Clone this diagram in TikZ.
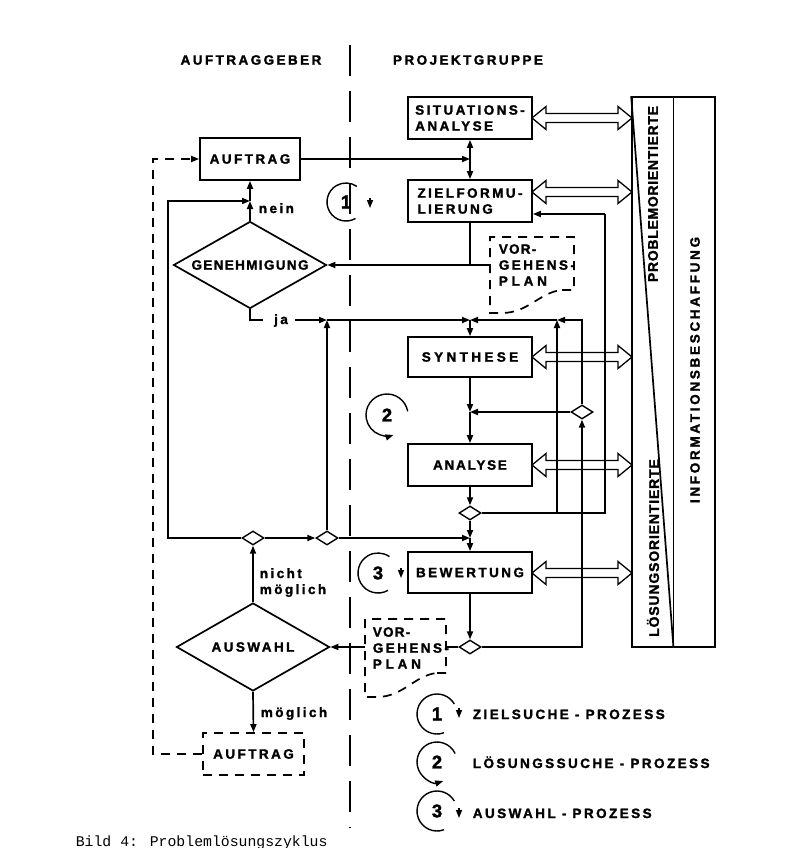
\documentclass[tikz,border=0pt]{standalone}
\usepackage{fontspec}
\setmainfont{Liberation Sans}
\newfontfamily\lblfont[LetterSpace=18,FakeBold=1.6]{Liberation Sans Bold}
\newfontfamily\numfont[FakeBold=1.6]{Liberation Sans Bold}
\newfontfamily\captfont{Liberation Mono}
\usetikzlibrary{arrows.meta,shapes.geometric,calc}
\newcommand\ls[1]{\addfontfeature{LetterSpace=#1}}
\newcommand\hollowarr[3]{%
  \draw[line width=1.3pt,line join=miter] (#1,#3) -- (#1+14,#3-11.5) -- (#1+14,#3-4.5) -- (#2-14,#3-4.5) -- (#2-14,#3-11.5) -- (#2,#3) -- (#2-14,#3+11.5) -- (#2-14,#3+4.5) -- (#1+14,#3+4.5) -- (#1+14,#3+11.5) -- cycle;}
\begin{document}
\begin{tikzpicture}[x=1pt,y=-1pt,line width=1.7pt,
  txt/.style={font=\lblfont\fontsize{13.5}{16}\selectfont,inner sep=0pt},
  box/.style={txt,draw,minimum width=124pt,minimum height=42pt,align=left},
  dia/.style={txt,draw,diamond,aspect=1.76,minimum width=153pt,minimum height=87pt},
  sdia/.style={draw,diamond,minimum width=22pt,minimum height=14pt,inner sep=0pt,fill=white,line width=1.4pt},
  arr/.style={-{Triangle[length=8pt,width=6pt]}},
  darr/.style={{Triangle[length=8pt,width=6pt]}-{Triangle[length=8pt,width=6pt]}},
  dsh/.style={dash pattern=on 9pt off 7pt},
  num/.style={font=\numfont\fontsize{18.5}{20}\selectfont,inner sep=0pt},
  circ/.style={line width=1.4pt},
]
\useasboundingbox (0,0) rectangle (785,848);

% headers and separator
\node[txt] (hA) at (251,60) {AUFTRAGGEBER};
\node[txt] (hP) at (468,60) {PROJEKTGRUPPE};
\draw[dash pattern=on 31pt off 15pt] (350,45) -- (350,828);

% hollow double arrows (drawn first)
\hollowarr{532}{632}{118}
\hollowarr{532}{632}{192}
\hollowarr{532}{632}{357}
\hollowarr{532}{632}{465}
\hollowarr{532}{632}{573}

% info panel
\node[draw,minimum width=83pt,minimum height=550pt,inner sep=0pt] (panel) at (673.5,372) {};
\draw (panel.north) -- (panel.south);
\draw (panel.north west) -- (panel.south);
\node[txt,rotate=90] (pt1) at (653,194) {\fontsize{14}{16}\selectfont\ls{5}PROBLEMORIENTIERTE};
\node[txt,rotate=90] (pt2) at (653,548) {\fontsize{14}{16}\selectfont\ls{6}LÖSUNGSORIENTIERTE};
\node[txt,rotate=90] (pt3) at (695,370) {\ls{20}INFORMATIONSBESCHAFFUNG};

% boxes
\node[box] (sit) at (470,118) {SITUATIONS-\\ANALYSE};
\node[box] (ziel) at (470,201) {ZIELFORMU-\\LIERUNG};
\node[box,minimum height=40pt] (syn) at (470,357) {\ls{25}SYNTHESE};
\node[box] (ana) at (470,465) {\ls{13}ANALYSE};
\node[box,minimum height=41pt] (bew) at (470,572.5) {BEWERTUNG};
\node[box,minimum width=100pt,minimum height=42pt] (auf) at (250,159) {AUFTRAG};
\node[dia] (gen) at (250,265) {\ls{10}GENEHMIGUNG};
\node[dia,minimum height=88pt] (aus) at (253,647) {AUSWAHL};
\node[box,dsh,minimum width=101pt,minimum height=42pt] (auf2) at (253.5,754) {AUFTRAG};

% small diamonds
\node[sdia] (d1) at (253,538) {};
\node[sdia] (d2) at (327,538) {};
\node[sdia] (d3) at (582,412) {};
\node[sdia] (d4) at (470,513) {};
\node[sdia] (d5) at (470,647) {};

% Vorgehensplan documents
\node[txt,anchor=west,align=left] (vg1) at (498,265) {\ls{9}VOR-\\GEHENS-\\\ls{28}PLAN};
\draw[dsh] (562,290) -- (574,290) -- (574,237) -- (490,237) -- (490,313) -- (502,313) .. controls (528,313) and (540,292) .. (562,290);
\node[txt,anchor=west,align=left] (vg2) at (372,648) {\ls{9}VOR-\\GEHENS-\\\ls{28}PLAN};
\draw[dsh] (437,673) -- (446,673) -- (446,619) -- (365,619) -- (365,697) -- (377,697) .. controls (403,697) and (415,675) .. (437,673);

% labels
\node[txt,anchor=base west] (lnein) at (258,213) {nein};
\node[txt,anchor=base] (ja) at (281,324) {ja};
\node[txt,anchor=base west] (lnicht) at (259,578) {nicht};
\node[txt,anchor=base west] (lmog1) at (259,594) {möglich};
\node[txt,anchor=base west] (lmog2) at (260,717) {möglich};

% coordinates
\coordinate (vg1w) at (490,265);
\coordinate (vg2w) at (365,647);
\coordinate (vg2e) at (446,647);
\coordinate (q1) at (470,159);
\coordinate (q2) at (470,265);
\coordinate (n1) at (250,201);
\coordinate (n0) at (168,201);
\coordinate (jaL) at (263,320);
\coordinate (jaR) at (295,320);
\coordinate (j1) at (327,320);
\coordinate (j2) at (470,320);
\coordinate (j3) at (557,320);
\coordinate (m1) at (470,412);
\coordinate (m2) at (470,538);
\coordinate (k1) at (557,513);
\coordinate (k2) at (605,513);
\coordinate (k3) at (605,214);
\coordinate (r1) at (153,159);

% connectors
\draw[arr] (auf.east) -- (q1);
\draw[darr] (sit.south) -- (ziel.north);
\draw (ziel.south) -- (q2);
\draw[arr] (vg1w) -- (gen.east);
\draw[arr] (gen.north) -- (n1);
\draw[arr] (n1) -- (auf.south);
\draw[arr] (d1.west) -| (n0) -- (n1);
\draw (gen.south) |- (jaL);
\draw[arr] (jaR) -- (j1);
\draw[arr] (j1) -- (j2);
\draw[arr] (d2.north) -- (j1);
\draw[arr] (j2) -- (syn.north);
\draw[arr] (d3.north) |- (j3);
\draw[arr] (j3) -- (j2);
\draw[arr] (k1) -- (j3);
\draw (d4.east) -- (k2) -- (k3);
\draw[arr] (k3) -- (ziel.east |- k3);
\draw[arr] (syn.south) -- (m1);
\draw[arr] (d3.west) -- (m1);
\draw[arr] (m1) -- (ana.north);
\draw[arr] (ana.south) -- (d4.north);
\draw[arr] (d4.south) -- (m2);
\draw[arr] (m2) -- (bew.north);
\draw[arr] (d1.east) -- (d2.west);
\draw[arr] (d2.east) -- (m2);
\draw[arr] (aus.north) -- (d1.south);
\draw[arr] (aus.south) -- (auf2.north);
\draw[dsh,arr] (auf2.west) -| (r1) -- (auf.west);
\draw[arr] (bew.south) -- (d5.north);
\draw[arr] (d5.east) -| (d3.south);
\draw (d5.west) -- (vg2e);
\draw[arr] (vg2w) -- (aus.east);

% process circles in diagram
\node[num] (c1) at (346,202) {1};
\draw[circ] ([shift={(-60:19pt)}]c1.center) arc[start angle=-60,end angle=-305,radius=19pt];
\draw[arr,circ] (370,198) -- (370,208);
\node[num] (c2) at (387,415) {2};
\draw[circ,arr] ([shift={(10:21pt)}]c2.center) arc[start angle=10,end angle=288,radius=21pt];
\node[num] (c3) at (378,573) {3};
\draw[circ] ([shift={(-60:20pt)}]c3.center) arc[start angle=-60,end angle=-305,radius=20pt];
\draw[arr,circ] (401,568) -- (401,578);

% legend
\node[num] (L1) at (437,714) {1};
\draw[circ] ([shift={(-70:20pt)}]L1.center) arc[start angle=-70,end angle=-330,radius=20pt];
\draw[arr,circ] (459,708) -- (459,718);
\node[txt,anchor=base west] (t1) at (472,719) {ZIELSUCHE - PROZESS};
\node[num] (L2) at (437,762) {2};
\draw[circ,arr] ([shift={(25:20pt)}]L2.center) arc[start angle=25,end angle=288,radius=20pt];
\node[txt,anchor=base west] (t2) at (472,768) {LÖSUNGSSUCHE - PROZESS};
\node[num] (L3) at (437,811) {3};
\draw[circ] ([shift={(-70:20pt)}]L3.center) arc[start angle=-70,end angle=-330,radius=20pt];
\draw[arr,circ] (459,808) -- (459,818);
\node[txt,anchor=base west] (t3) at (472,818) {AUSWAHL - PROZESS};

% caption
\node[font=\captfont\fontsize{14.8}{16}\selectfont,anchor=base west,inner sep=0pt] (cap) at (75,846) {Bild 4: Problemlösungszyklus};
\end{tikzpicture}
\end{document}
